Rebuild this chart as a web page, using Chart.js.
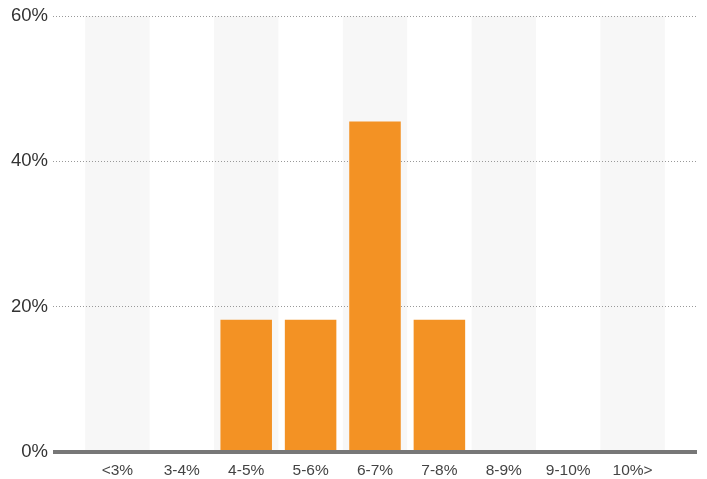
<!DOCTYPE html>
<html>
<head>
<meta charset="utf-8">
<script src="https://cdn.jsdelivr.net/npm/chart.js@4"></script>
<style>
  html, body { margin: 0; padding: 0; background: #fff; }
  #wrap { width: 707px; height: 479px; position: relative; }
</style>
</head>
<body>
<div id="wrap"><canvas id="myChart"></canvas></div>
<script>
const ctx = document.getElementById('myChart').getContext('2d');

const labels = ['<3%', '3-4%', '4-5%', '5-6%', '6-7%', '7-8%', '8-9%', '9-10%', '10%>'];
const shares = [0, 0, 18.2, 18.2, 45.5, 18.2, 0, 0, 0];
const yTicks = [0, 20, 40, 60];

// light grey column behind every other category (under the gridlines),
// thick baseline on top of the bars
const bands = {
  id: 'bands',
  beforeDraw(chart) {
    const { ctx, chartArea, scales } = chart;
    const x = scales.x;
    ctx.save();
    ctx.fillStyle = '#f7f7f7';
    labels.forEach((l, i) => {
      if (i % 2) return;
      const left = x.getPixelForValue(i - 0.5);
      const right = x.getPixelForValue(i + 0.5);
      ctx.fillRect(left, chartArea.top, right - left, chartArea.bottom - chartArea.top);
    });
    ctx.restore();
  },
  afterDatasetsDraw(chart) {
    const { ctx, chartArea } = chart;
    ctx.save();
    ctx.strokeStyle = '#777';
    ctx.lineWidth = 4;
    ctx.beginPath();
    ctx.moveTo(chartArea.left, chartArea.bottom);
    ctx.lineTo(chartArea.right, chartArea.bottom);
    ctx.stroke();
    ctx.restore();
  }
};

const data = {
  datasets: [{
    data: shares.map((v, i) => ({ x: i, y: v })),
    backgroundColor: '#f39224',
    borderWidth: 0,
    barPercentage: 0.8,
    categoryPercentage: 1,
  }],
};

const config = {
  type: 'bar',
  data: data,
  plugins: [bands],
  options: {
    responsive: true,
    maintainAspectRatio: false,
    animation: false,
    layout: { padding: { top: 9, right: 10, left: 0, bottom: 0 } },
    plugins: {
      legend: { display: false },
      tooltip: { enabled: false },
    },
    scales: {
      x: {
        type: 'linear',
        min: -1,
        max: 9,
        offset: false,
        grid: { display: false, drawTicks: false },
        border: { display: false },
        afterBuildTicks: (scale) => {
          scale.ticks = labels.map((l, i) => ({ value: i }));
        },
        afterFit: (scale) => { scale.height = 27; },
        ticks: {
          autoSkip: false,
          maxRotation: 0,
          padding: 9,
          color: '#444',
          font: { family: 'Liberation Sans', size: 15.5 },
          callback: (v) => labels[v] ?? '',
        },
      },
      y: {
        min: 0,
        max: 60,
        afterBuildTicks: (scale) => {
          scale.ticks = yTicks.map(v => ({ value: v }));
        },
        afterFit: (scale) => { scale.width = 53; },
        border: { display: false, dash: [1, 2] },
        grid: {
          color: '#999',
          lineWidth: 1,
          drawTicks: false,
        },
        ticks: {
          padding: 5,
          color: '#333',
          font: { family: 'Liberation Sans', size: 18.5 },
          callback: (v) => v + '%',
        },
      },
    },
  },
};

const myChart = new Chart(ctx, config);
</script>
</body>
</html>
